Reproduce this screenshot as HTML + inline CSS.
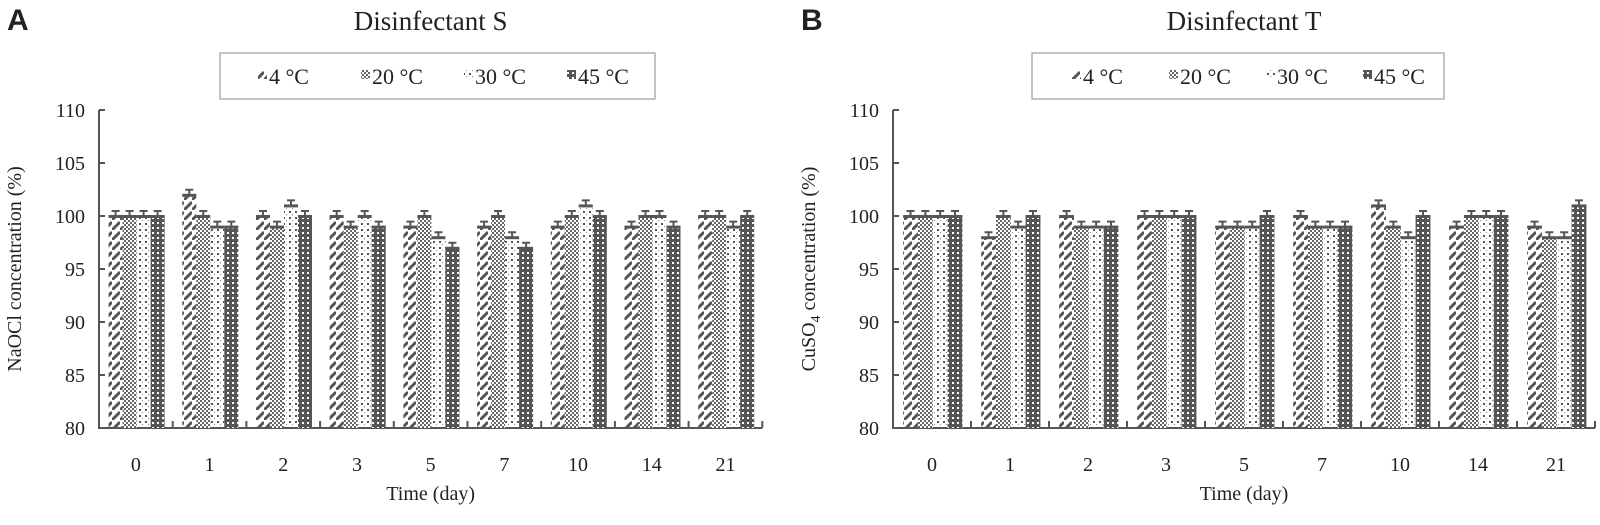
<!DOCTYPE html>
<html><head><meta charset="utf-8"><style>
body{margin:0;background:#fff;width:1600px;height:520px;overflow:hidden}
svg text{font-family:"Liberation Serif",serif;fill:#222}
</style></head><body>
<svg id="c" width="1600" height="520">
<defs>
<pattern id="p0" width="8" height="10" patternUnits="userSpaceOnUse"><path d="M0,10 L8,2" stroke="#555" stroke-width="3"/></pattern>
<pattern id="p1" width="4" height="4" patternUnits="userSpaceOnUse"><rect width="4" height="4" fill="#fff"/><rect width="2" height="2" fill="#666"/><rect x="2" y="2" width="2" height="2" fill="#666"/></pattern>
<pattern id="p2" width="6" height="6" patternUnits="userSpaceOnUse"><rect x="1" y="1" width="2" height="2" fill="#555"/><rect x="4" y="4" width="1" height="1" fill="#888"/></pattern>
<pattern id="p3" width="5" height="5" patternUnits="userSpaceOnUse"><rect width="5" height="5" fill="#555"/><rect x="2" y="2" width="2" height="2" fill="#fff"/></pattern>
</defs>
</svg>
<script>
const categories=["0","1","2","3","5","7","10","14","21"];
const seriesNames=["4 °C","20 °C","30 °C","45 °C"];
const sValues=[[100,102,100,100,99,99,99,99,100],[100,100,99,99,100,100,100,100,100],[100,99,101,100,98,98,101,100,99],[100,99,100,99,97,97,100,99,100]];
const tValues=[[100,98,100,100,99,100,101,99,99],[100,100,99,100,99,99,99,100,98],[100,99,99,100,99,99,98,100,98],[100,100,99,100,100,99,100,100,101]];
const yTicks=[80,85,90,95,100,105,110];
const svg=document.getElementById('c');
const NS='http://www.w3.org/2000/svg';
function mk(t,a,p){const e=document.createElementNS(NS,t);for(const k in a)e.setAttribute(k,a[k]);(p||svg).appendChild(e);return e;}
function panel(x0,cw,letter,title,ylab,vals,legX,legW,legOff,legSp,pname){
  const g=mk('g',{});
  
  
  const y0=428,ppu=10.6,W=cw*categories.length;
  const Y=v=>y0-(v-80)*ppu;
  const X=i=>x0+cw*i;
  const bw=cw*0.19,off=cw*0.13;
  let t=mk('text',{x:x0-92,y:30,'font-size':30,'font-weight':'bold',style:'font-family:"Liberation Sans",sans-serif'},g);t.textContent=letter;
  
  t=mk('text',{x:x0+W/2,y:30,'font-size':27,'text-anchor':'middle'},g);t.textContent=title;
  
  const lg=mk('rect',{x:legX,y:53,width:legW,height:46,fill:'#fff',stroke:'#888'},g);
  
  seriesNames.forEach((n,i)=>{
    const lx=legX+legOff+i*legSp;
    const r=mk('rect',{x:lx,y:70,width:9,height:9,fill:'url(#p'+i+')'},g);
    
    const tt=mk('text',{x:lx+11,y:84,'font-size':22},g);tt.textContent=n;
    
  });
  const ax=mk('path',{d:`M${x0},${Y(110)}V${y0}H${x0+W}`,stroke:'#555','stroke-width':2,fill:'none'},g);
  
  yTicks.forEach(v=>{
    mk('line',{x1:x0,x2:x0+6,y1:Y(v),y2:Y(v),stroke:'#555','stroke-width':2},g);
    const tt=mk('text',{x:x0-14,y:Y(v)+7,'font-size':20,'text-anchor':'end'},g);tt.textContent=v;
    
  });
  categories.forEach((c,i)=>{
    mk('line',{x1:X(i+1),x2:X(i+1),y1:y0,y2:y0-7,stroke:'#555','stroke-width':2},g);
    const tt=mk('text',{x:X(i)+cw/2,y:471,'font-size':20,'text-anchor':'middle'},g);tt.textContent=c;
    
    vals.forEach((s,k)=>{
      const bx=X(i)+off+k*bw,v=s[i];
      const b=mk('rect',{x:bx,y:Y(v),width:bw,height:y0-Y(v),fill:'url(#p'+k+')'},g);
      
      mk('rect',{x:bx,y:Y(v)-1,width:bw,height:3,fill:'#555'},g);
      const e=mk('path',{d:`M${bx+bw/2-4},${Y(v)-5}h8M${bx+bw/2},${Y(v)-5}v5`,stroke:'#555','stroke-width':2,fill:'none'},g);
      
    });
  });
  t=mk('text',{x:x0+W/2,y:500,'font-size':20,'text-anchor':'middle'},g);t.textContent='Time (day)';
  
  t=mk('text',{transform:`translate(${x0-78},${(Y(110)+y0)/2}) rotate(-90)`,'font-size':20,'text-anchor':'middle'},g);
  t.innerHTML=ylab;
  
}
panel(99,73.7,'A','Disinfectant S','NaOCl concentration (%)',sValues,220,435,38,103,'panel-a');
panel(893,78,'B','Disinfectant T','CuSO<tspan dy="5" font-size="14">4</tspan><tspan dy="-5"> concentration (%)</tspan>',tValues,1032,412,40,97,'panel-b');
</script>
</body></html>
